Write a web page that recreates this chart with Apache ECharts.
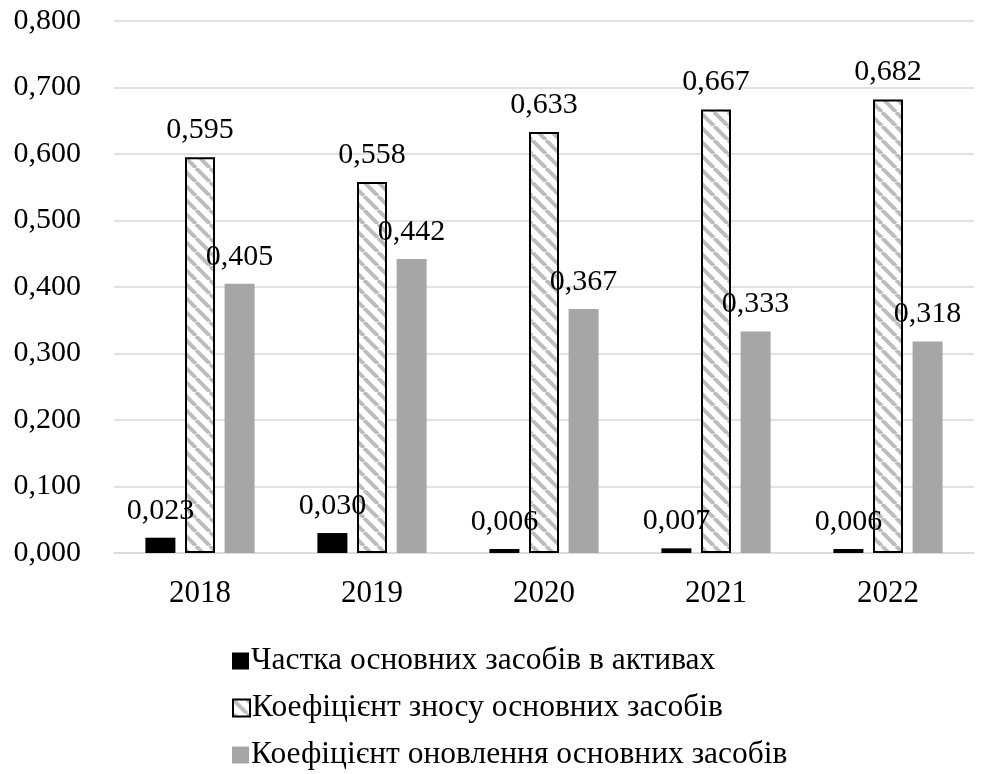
<!DOCTYPE html>
<html>
<head>
<meta charset="utf-8">
<script src="https://cdn.jsdelivr.net/npm/echarts@6/dist/echarts.min.js"></script>
<style>
  html, body { margin: 0; padding: 0; background: #fff; }
  #chart { width: 981px; height: 774px; }
</style>
</head>
<body>
<div id="chart"></div>
<script>
const years = ['2018', '2019', '2020', '2021', '2022'];
const shareFixedAssets = [0.023, 0.030, 0.006, 0.007, 0.006];
const depreciationRate = [0.595, 0.558, 0.633, 0.667, 0.682];
const renewalRate = [0.405, 0.442, 0.367, 0.333, 0.318];
const seriesNames = [
  'Частка основних засобів в активах',
  'Коефіцієнт зносу основних засобів',
  'Коефіцієнт оновлення основних засобів'
];

// Diagonal hatch fill for the depreciation bars
function hatchCanvas() {
  const s = 14;
  const c = document.createElement('canvas');
  c.width = s; c.height = s;
  const g = c.getContext('2d');
  g.fillStyle = '#ffffff';
  g.fillRect(0, 0, s, s);
  g.strokeStyle = '#bdbdbd';
  g.lineWidth = 4;
  g.beginPath();
  for (let k = -1; k <= 1; k++) {
    g.moveTo(k * s, 0);
    g.lineTo(k * s + s, s);
  }
  g.stroke();
  return c;
}
const hatch = { image: hatchCanvas(), repeat: 'repeat' };

const fmt = v => v.toFixed(3).replace('.', ',');
const font = '"Liberation Serif", "Times New Roman", serif';

const labelCfg = {
  show: true,
  position: 'top',
  distance: 12,
  color: '#000',
  fontFamily: font,
  fontSize: 30,
  formatter: p => fmt(p.value)
};

// One legend row per series, stacked under the plot
const legendTops = [640, 687, 734];
const legends = seriesNames.map((name, i) => ({
  orient: 'horizontal',
  left: 227,
  top: legendTops[i],
  itemWidth: 17,
  itemHeight: 17,
  icon: 'rect',
  textStyle: { fontFamily: font, fontSize: 31.5, color: '#000', padding: [0, 0, 0, -3] },
  data: [name]
}));

const chart = echarts.init(document.getElementById('chart'));
chart.setOption({
  animation: false,
  textStyle: { fontFamily: font },
  grid: { left: 114, right: 7, top: 21, bottom: 221, containLabel: false },
  legend: legends,
  xAxis: {
    type: 'category',
    data: years,
    axisLine: { lineStyle: { color: '#d9d9d9', width: 1.5 } },
    axisTick: { show: false },
    axisLabel: { color: '#000', fontFamily: font, fontSize: 31, margin: 25 }
  },
  yAxis: {
    type: 'value',
    min: 0,
    max: 0.8,
    interval: 0.1,
    axisLine: { show: false },
    axisTick: { show: false },
    splitLine: { lineStyle: { color: '#d9d9d9', width: 1.5 } },
    axisLabel: { color: '#000', fontFamily: font, fontSize: 30, margin: 33, formatter: v => fmt(v) }
  },
  series: [
    {
      name: seriesNames[0],
      type: 'bar',
      data: shareFixedAssets,
      barWidth: 30,
      barGap: '32%',
      itemStyle: { color: '#000' },
      label: labelCfg
    },
    {
      name: seriesNames[1],
      type: 'bar',
      data: depreciationRate,
      barWidth: 30,
      barGap: '32%',
      itemStyle: { color: hatch, borderColor: '#000', borderWidth: 2 },
      label: labelCfg
    },
    {
      name: seriesNames[2],
      type: 'bar',
      data: renewalRate,
      barWidth: 30,
      barGap: '32%',
      itemStyle: { color: '#a6a6a6' },
      label: labelCfg
    }
  ]
});
</script>
</body>
</html>
